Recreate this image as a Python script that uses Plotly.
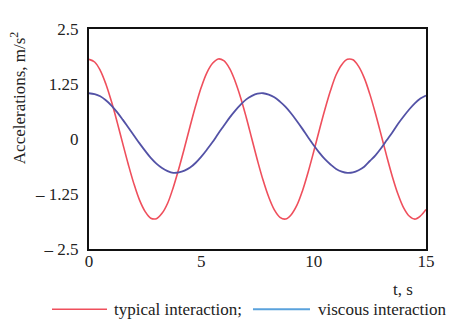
import plotly.graph_objects as go

t = [0, 0.25, 0.5, 0.75, 1, 1.25, 1.5, 1.75, 2, 2.25, 2.5, 2.75, 3, 3.25, 3.5, 3.75,
     4, 4.25, 4.5, 4.75, 5, 5.25, 5.5, 5.75, 6, 6.25, 6.5, 6.75, 7, 7.25, 7.5, 7.75,
     8, 8.25, 8.5, 8.75, 9, 9.25, 9.5, 9.75, 10, 10.25, 10.5, 10.75, 11, 11.25, 11.5, 11.75,
     12, 12.25, 12.5, 12.75, 13, 13.25, 13.5, 13.75, 14, 14.25, 14.5, 14.75, 15]

typical = [1.81, 1.75, 1.56, 1.25, 0.85, 0.39, -0.10, -0.58, -1.02, -1.39, -1.65, -1.80, -1.81, -1.69, -1.46, -1.10,
           -0.67, -0.20, 0.29, 0.76, 1.18, 1.51, 1.72, 1.82, 1.78, 1.61, 1.32, 0.94, 0.49, 0.00, -0.49, -0.94,
           -1.32, -1.61, -1.78, -1.82, -1.72, -1.51, -1.18, -0.76, -0.29, 0.20, 0.67, 1.10, 1.46, 1.69, 1.81, 1.80,
           1.65, 1.39, 1.02, 0.58, 0.10, -0.39, -0.85, -1.25, -1.56, -1.75, -1.82, -1.75, -1.60]

viscous = [1.04, 1.02, 0.97, 0.88, 0.76, 0.61, 0.44, 0.26, 0.08, -0.10, -0.27, -0.43, -0.56, -0.66, -0.73, -0.77,
           -0.76, -0.72, -0.65, -0.54, -0.40, -0.24, -0.07, 0.12, 0.30, 0.48, 0.64, 0.78, 0.90, 0.98, 1.03, 1.04,
           1.01, 0.95, 0.85, 0.73, 0.58, 0.41, 0.23, 0.04, -0.14, -0.31, -0.46, -0.58, -0.68, -0.74, -0.77, -0.76,
           -0.71, -0.63, -0.50, -0.37, -0.21, -0.03, 0.15, 0.34, 0.51, 0.67, 0.81, 0.92, 0.99]

ytick_vals = [-2.5, -1.25, 0, 1.25, 2.5]
ytick_text = ["\u2013 2.5", "\u2013 1.25", "0", "1.25", "2.5"]
xtick_vals = [0, 5, 10, 15]

RED = "#ef4f5c"
BLUE = "#5352a6"
LEG_BLUE = "#5aa2dc"
FONT = "Liberation Serif"
TXT = "#222"
FS = 17

fig = go.Figure()
fig.add_trace(go.Scatter(x=t, y=typical, mode="lines", line=dict(color=RED, width=1.6, shape="spline"),
                         showlegend=False))
fig.add_trace(go.Scatter(x=t, y=viscous, mode="lines", line=dict(color=BLUE, width=1.8, shape="spline"),
                         showlegend=False))

# page body has an 8px margin, so the figure is 450x312 placed at (8, 8)
fig.update_layout(
    width=450, height=312,
    margin=dict(l=81, r=32, t=15, b=71),
    paper_bgcolor="white", plot_bgcolor="white",
    font=dict(family=FONT, size=FS, color=TXT),
    showlegend=False,
)
fig.update_xaxes(range=[0, 15], tickvals=xtick_vals, showgrid=False, zeroline=False,
                 showline=True, mirror=True, linecolor="#111", linewidth=2,
                 ticks="", ticklabelstandoff=-4)
fig.update_yaxes(range=[-2.5, 2.5], tickvals=ytick_vals, ticktext=ytick_text, showgrid=False,
                 zeroline=False, showline=True, mirror=True, linecolor="#111", linewidth=2,
                 ticks="", ticklabelstandoff=5)

fig.add_annotation(text="Accelerations, m/s<sup>2</sup>", xref="paper", yref="paper",
                   x=-0.2107, y=0.69, xanchor="center", yanchor="middle", textangle=-90,
                   showarrow=False, font=dict(family=FONT, size=FS, color=TXT))
fig.add_annotation(text="t, s", xref="paper", yref="paper", x=0.932, y=-0.185,
                   xanchor="center", yanchor="middle", showarrow=False,
                   font=dict(family=FONT, size=FS, color=TXT))

# legend drawn manually
fig.add_shape(type="line", xref="paper", yref="paper", x0=-0.1098, x1=0.0534, y0=-0.274, y1=-0.274,
              line=dict(color=RED, width=1.5))
fig.add_shape(type="line", xref="paper", yref="paper", x0=0.4866, x1=0.6558, y0=-0.274, y1=-0.274,
              line=dict(color=LEG_BLUE, width=2))
fig.add_annotation(text="typical interaction;", xref="paper", yref="paper", x=0.0682, y=-0.274,
                   xanchor="left", yanchor="middle", showarrow=False,
                   font=dict(family=FONT, size=FS, color=TXT))
fig.add_annotation(text="viscous interaction", xref="paper", yref="paper", x=0.6735, y=-0.274,
                   xanchor="left", yanchor="middle", showarrow=False,
                   font=dict(family=FONT, size=FS, color=TXT))

fig.write_html("out.html")
